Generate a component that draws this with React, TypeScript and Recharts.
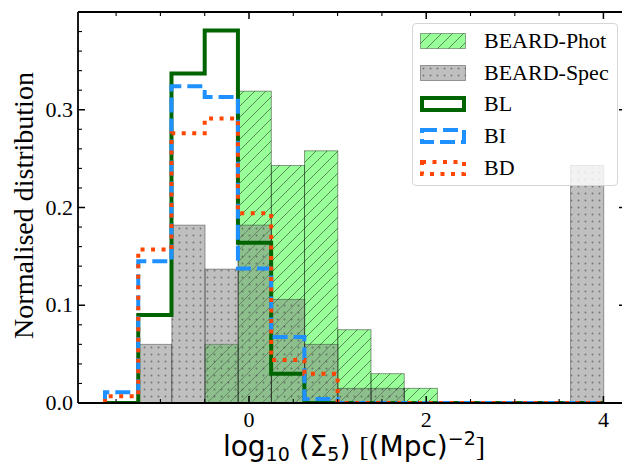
import { ComposedChart, Bar, Line, XAxis, YAxis, Legend } from 'recharts'

// histogram bin edges, log10(Sigma_5)
const binEdges = [-1.625, -1.25, -0.875, -0.5, -0.125, 0.25, 0.625, 1.0, 1.375, 1.75, 2.125, 2.5, 2.875, 3.25, 3.625, 4.0]

// normalised counts per bin
const beardPhot = [0, 0, 0, 0.06, 0.319, 0.243, 0.258, 0.075, 0.03, 0.015, 0, 0, 0, 0, 0]
const beardSpec = [0, 0.06, 0.182, 0.137, 0.182, 0.106, 0.06, 0.015, 0.015, 0, 0, 0, 0, 0, 0.243]
const blValues = [0, 0.09, 0.337, 0.381, 0.164, 0.03, 0, 0, 0, 0, 0, 0, 0, 0, 0]
const biValues = [0.011, 0.145, 0.324, 0.313, 0.1375, 0.0675, 0.004, 0, 0, 0, 0, 0, 0, 0, 0]
const bdValues = [0.007, 0.157, 0.276, 0.291, 0.194, 0.044, 0.03, 0, 0, 0, 0, 0, 0, 0, 0]

const xMajor = [0, 2, 4]
const xMinor = [-1.5, -1, -0.5, 0.5, 1, 1.5, 2.5, 3, 3.5]
const yMajor = [0, 0.1, 0.2, 0.3]
const yMinor = [0.02, 0.04, 0.06, 0.08, 0.12, 0.14, 0.16, 0.18, 0.22, 0.24, 0.26, 0.28, 0.32, 0.34, 0.36, 0.38]
const yLabels = ['0.0', '0.1', '0.2', '0.3']

const W = 622
const H = 460
const Y_AXIS_W = 70
const X_AXIS_H = 65
// the top and right axes only carry the frame and inward ticks, 1px each
const MARGIN = { top: 3, right: 3, bottom: 0, left: 0 }
const PLOT_W = W - MARGIN.left - MARGIN.right - Y_AXIS_W - 1
const X_MIN = -1.93
const X_MAX = 4.255
const BIN_PX = ((binEdges[1] - binEdges[0]) * PLOT_W) / (X_MAX - X_MIN)

const SERIF = '"Liberation Serif", "Times New Roman", serif'
const SANS = '"DejaVu Sans", sans-serif'

const barData = beardPhot.map((p, i) => ({
  x: (binEdges[i] + binEdges[i + 1]) / 2,
  phot: p,
  spec: beardSpec[i],
}))

// step outline: up from zero at the first edge, one point per edge, down to zero at the end
function stepData(values: number[]) {
  const pts = [{ x: binEdges[0], v: 0 }]
  values.forEach((v, i) => pts.push({ x: binEdges[i], v }))
  pts.push({ x: binEdges[binEdges.length - 1], v: values[values.length - 1] })
  pts.push({ x: binEdges[binEdges.length - 1], v: 0 })
  return pts
}

const xTicks = [...xMinor, ...xMajor].sort((a, b) => a - b)
const yTicks = [...yMajor, ...yMinor].sort((a, b) => a - b)

function histBar(fill: string, pattern: string, edge: string) {
  return (props: any) => {
    const { x, y, width, height } = props
    if (!height || height <= 0) return <g />
    const left = x + width / 2 - BIN_PX / 2
    return (
      <g>
        <rect x={left} y={y} width={BIN_PX} height={height} fill={fill} />
        <rect x={left} y={y} width={BIN_PX} height={height} fill={`url(#${pattern})`} stroke={edge} strokeWidth={1} />
      </g>
    )
  }
}

const XTickBottom = (props: any) => {
  const { x, y, payload } = props
  const major = xMajor.includes(payload.value)
  return (
    <g>
      <line x1={x} x2={x} y1={y} y2={y - (major ? 7 : 4)} stroke="#000" strokeWidth={major ? 1.5 : 1.1} />
      {major && (
        <text x={x} y={y + 24} textAnchor="middle" fontFamily={SERIF} fontSize={22} fill="#000">
          {payload.value}
        </text>
      )}
    </g>
  )
}

const XTickTop = (props: any) => {
  const { x, y, payload } = props
  const major = xMajor.includes(payload.value)
  return <line x1={x} x2={x} y1={y} y2={y + (major ? 7 : 4)} stroke="#000" strokeWidth={major ? 1.5 : 1.1} />
}

const YTickLeft = (props: any) => {
  const { x, y, payload } = props
  const idx = yMajor.indexOf(payload.value)
  const major = idx >= 0
  return (
    <g>
      <line x1={x} x2={x + (major ? 7 : 4)} y1={y} y2={y} stroke="#000" strokeWidth={major ? 1.5 : 1.1} />
      {major && (
        <text x={x - 5} y={y + 7} textAnchor="end" fontFamily={SERIF} fontSize={22} fill="#000">
          {yLabels[idx]}
        </text>
      )}
    </g>
  )
}

const YTickRight = (props: any) => {
  const { x, y, payload } = props
  const major = yMajor.includes(payload.value)
  return <line x1={x} x2={x - (major ? 7 : 4)} y1={y} y2={y} stroke="#000" strokeWidth={major ? 1.5 : 1.1} />
}

const legendItems = [
  { name: 'BEARD-Phot', kind: 'phot' },
  { name: 'BEARD-Spec', kind: 'spec' },
  { name: 'BL', kind: 'bl' },
  { name: 'BI', kind: 'bi' },
  { name: 'BD', kind: 'bd' },
]

function Swatch({ kind }: { kind: string }) {
  let inner
  if (kind === 'phot') {
    inner = (
      <g>
        <rect x={0.5} y={0.5} width={45} height={15} fill="rgba(0,255,0,0.4)" />
        <rect x={0.5} y={0.5} width={45} height={15} fill="url(#hatchPhot)" stroke="rgba(0,0,0,0.35)" />
      </g>
    )
  } else if (kind === 'spec') {
    inner = (
      <g>
        <rect x={0.5} y={0.5} width={45} height={15} fill="rgba(128,128,128,0.5)" />
        <rect x={0.5} y={0.5} width={45} height={15} fill="url(#dotsSpec)" stroke="rgba(0,0,0,0.35)" />
      </g>
    )
  } else {
    const stroke = kind === 'bl' ? '#006400' : kind === 'bi' ? '#1e90ff' : '#ff4500'
    const dash = kind === 'bi' ? '15 6' : kind === 'bd' ? '4 6.5' : undefined
    inner = <rect x={2} y={2} width={42} height={12} fill="none" stroke={stroke} strokeWidth={4} strokeDasharray={dash} />
  }
  return (
    <svg width={46} height={16} style={{ display: 'block' }}>
      {inner}
    </svg>
  )
}

const renderLegend = () => (
  <div
    style={{
      width: 206,
      height: 163,
      boxSizing: 'border-box',
      border: '1px solid #d6d6d6',
      borderRadius: 4,
      background: 'rgba(255,255,255,0.8)',
      paddingTop: 1,
    }}
  >
    {legendItems.map((it) => (
      <div key={it.name} style={{ display: 'flex', alignItems: 'center', height: 31.7 }}>
        <div style={{ width: 7 }} />
        <Swatch kind={it.kind} />
        <span style={{ marginLeft: 18, fontFamily: SERIF, fontSize: 22, color: '#000', lineHeight: 1 }}>{it.name}</span>
      </div>
    ))}
  </div>
)

const XLabel = (props: any) => {
  const { viewBox } = props
  const cx = viewBox.x + viewBox.width / 2 + 2
  return (
    <text x={cx} y={viewBox.y + 53} textAnchor="middle" fontFamily={SANS} fontSize={28} fill="#000">
      <tspan>log</tspan>
      <tspan fontSize={19} dy={5}>10</tspan>
      <tspan dy={-5}> (Σ</tspan>
      <tspan fontSize={19} dy={5}>5</tspan>
      <tspan dy={-5}>) </tspan>
      <tspan fontFamily={SERIF}>[</tspan>
      <tspan>(Mpc)</tspan>
      <tspan fontSize={19} dy={-11}>−2</tspan>
      <tspan dy={11} fontFamily={SERIF}>]</tspan>
    </text>
  )
}

const YLabel = (props: any) => {
  const { viewBox } = props
  const cy = viewBox.y + viewBox.height / 2 - 2
  const cx = 25
  return (
    <text
      x={cx}
      y={cy}
      transform={`rotate(-90, ${cx}, ${cy})`}
      textAnchor="middle"
      fontFamily={SERIF}
      fontSize={28}
      fill="#000"
    >
      Normalised distribution
    </text>
  )
}

export default function App() {
  return (
    <ComposedChart width={W} height={H} data={barData} margin={MARGIN} barCategoryGap={0}>
      <defs>
        <pattern id="hatchPhot" patternUnits="userSpaceOnUse" width={11} height={11}>
          <path d="M0,11 L11,0 M-3,3 L3,-3 M8,14 L14,8" stroke="rgba(0,0,0,0.5)" strokeWidth={0.9} />
        </pattern>
        <pattern id="dotsSpec" patternUnits="userSpaceOnUse" width={7} height={7}>
          <circle cx={3.5} cy={3.5} r={1} fill="rgba(60,60,60,0.55)" />
        </pattern>
      </defs>
      <XAxis
        xAxisId="bottom"
        dataKey="x"
        type="number"
        domain={[X_MIN, X_MAX]}
        allowDataOverflow
        ticks={xTicks}
        interval={0}
        tickSize={0}
        tickMargin={0}
        tick={<XTickBottom />}
        height={X_AXIS_H}
        axisLine={{ stroke: '#000', strokeWidth: 1.8 }}
        label={<XLabel />}
      />
      <XAxis
        xAxisId="top"
        orientation="top"
        dataKey="x"
        type="number"
        domain={[X_MIN, X_MAX]}
        allowDataOverflow
        ticks={xTicks}
        interval={0}
        tickSize={0}
        tickMargin={0}
        tick={<XTickTop />}
        height={1}
        axisLine={{ stroke: '#000', strokeWidth: 1.8 }}
      />
      <YAxis
        yAxisId="left"
        type="number"
        domain={[0, 0.4]}
        allowDataOverflow
        ticks={yTicks}
        interval={0}
        tickSize={0}
        tickMargin={0}
        tick={<YTickLeft />}
        width={Y_AXIS_W}
        axisLine={{ stroke: '#000', strokeWidth: 1.8 }}
        label={<YLabel />}
      />
      <YAxis
        yAxisId="right"
        orientation="right"
        type="number"
        domain={[0, 0.4]}
        allowDataOverflow
        ticks={yTicks}
        interval={0}
        tickSize={0}
        tickMargin={0}
        tick={<YTickRight />}
        width={1}
        axisLine={{ stroke: '#000', strokeWidth: 1.8 }}
      />
      <Bar
        xAxisId="bottom"
        yAxisId="left"
        dataKey="phot"
        barSize={BIN_PX}
        shape={histBar('rgba(0,255,0,0.4)', 'hatchPhot', 'rgba(0,0,0,0.4)')}
        isAnimationActive={false}
      />
      <Bar
        xAxisId="top"
        yAxisId="left"
        dataKey="spec"
        barSize={BIN_PX}
        shape={histBar('rgba(128,128,128,0.5)', 'dotsSpec', 'rgba(0,0,0,0.35)')}
        isAnimationActive={false}
      />
      <Line
        xAxisId="bottom"
        yAxisId="left"
        data={stepData(blValues)}
        dataKey="v"
        type="stepAfter"
        stroke="#006400"
        strokeWidth={4}
        dot={false}
        isAnimationActive={false}
      />
      <Line
        xAxisId="bottom"
        yAxisId="left"
        data={stepData(biValues)}
        dataKey="v"
        type="stepAfter"
        stroke="#1e90ff"
        strokeWidth={4}
        strokeDasharray="15 6"
        dot={false}
        isAnimationActive={false}
      />
      <Line
        xAxisId="bottom"
        yAxisId="left"
        data={stepData(bdValues)}
        dataKey="v"
        type="stepAfter"
        stroke="#ff4500"
        strokeWidth={4}
        strokeDasharray="4 6.5"
        dot={false}
        isAnimationActive={false}
      />
      <Legend
        content={renderLegend}
        layout="horizontal"
        align="center"
        verticalAlign="middle"
        width={206}
        height={163}
        wrapperStyle={{ left: 404, top: 15 }}
      />
    </ComposedChart>
  )
}
